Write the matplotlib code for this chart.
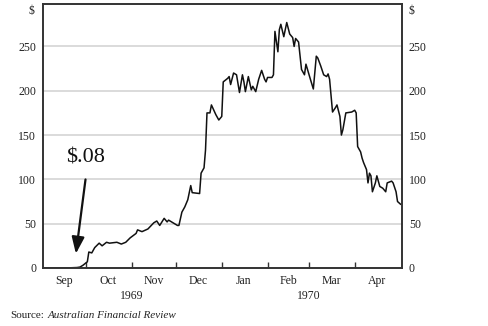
import matplotlib
matplotlib.use('Agg')
import matplotlib.pyplot as plt
import pandas as pd

# share price, dollars
dates = [
    '1969-09-02', '1969-09-10', '1969-09-19', '1969-09-25', '1969-09-27', '1969-09-29',
    '1969-10-02', '1969-10-03', '1969-10-05', '1969-10-07', '1969-10-10', '1969-10-12',
    '1969-10-15', '1969-10-17', '1969-10-22', '1969-10-25', '1969-10-28', '1969-10-31',
    '1969-11-04', '1969-11-05', '1969-11-08', '1969-11-12', '1969-11-16', '1969-11-18',
    '1969-11-20', '1969-11-23', '1969-11-25', '1969-11-26', '1969-11-29', '1969-12-02',
    '1969-12-03', '1969-12-05', '1969-12-07', '1969-12-09', '1969-12-11', '1969-12-12',
    '1969-12-17', '1969-12-18', '1969-12-20', '1969-12-21', '1969-12-22', '1969-12-24',
    '1969-12-25', '1969-12-28', '1969-12-30', '1970-01-01', '1970-01-02', '1970-01-05',
    '1970-01-06', '1970-01-07', '1970-01-09', '1970-01-11', '1970-01-13', '1970-01-15',
    '1970-01-16', '1970-01-17', '1970-01-19', '1970-01-21', '1970-01-22', '1970-01-24',
    '1970-01-26', '1970-01-28', '1970-01-30', '1970-01-31', '1970-02-01', '1970-02-04',
    '1970-02-05', '1970-02-06', '1970-02-08', '1970-02-09', '1970-02-10', '1970-02-12',
    '1970-02-14', '1970-02-16', '1970-02-18', '1970-02-19', '1970-02-20', '1970-02-22',
    '1970-02-24', '1970-02-26', '1970-02-27', '1970-03-02', '1970-03-04', '1970-03-06',
    '1970-03-07', '1970-03-09', '1970-03-11', '1970-03-13', '1970-03-14', '1970-03-15',
    '1970-03-17', '1970-03-19', '1970-03-20', '1970-03-22', '1970-03-23', '1970-03-24',
    '1970-03-26', '1970-03-30', '1970-04-01', '1970-04-02', '1970-04-03', '1970-04-05',
    '1970-04-06', '1970-04-07', '1970-04-09', '1970-04-10', '1970-04-11', '1970-04-12',
    '1970-04-13', '1970-04-15', '1970-04-16', '1970-04-18', '1970-04-20', '1970-04-22',
    '1970-04-23', '1970-04-26', '1970-04-27', '1970-04-29', '1970-04-30', '1970-05-02',
]
prices = [
    0.08, 0.08, 0.1, 0.5, 1, 3,
    7, 18, 17, 23, 28, 25,
    29, 28, 29, 27, 29, 34,
    39, 43, 41, 44, 51, 53,
    48, 56, 52, 54, 51, 48,
    48, 63, 69, 77, 93, 85,
    84, 107, 113, 133, 175, 175,
    184, 173, 167, 171, 210, 214,
    216, 207, 220, 218, 198, 218,
    210, 199, 216, 201, 205, 199,
    213, 223, 213, 210, 215, 215,
    218, 267, 244, 269, 275, 261,
    277, 264, 260, 250, 259, 255,
    224, 218, 230, 213, 202, 239,
    237, 228, 218, 216, 219, 213,
    176, 181, 184, 171, 150, 156,
    175, 176, 178, 175, 137, 131,
    124, 119, 111, 96, 107, 104,
    86, 96, 104, 92, 90, 86,
    96, 98, 96, 86, 75, 72,
]
y_ticks = [0, 50, 100, 150, 200, 250]
month_starts = ['1969-10-01', '1969-11-01', '1969-12-01', '1970-01-01',
                '1970-02-01', '1970-03-01', '1970-04-01']
month_mids = ['1969-09-16', '1969-10-16', '1969-11-16', '1969-12-16',
              '1970-01-16', '1970-02-15', '1970-03-16', '1970-04-16']
month_names = ['Sep', 'Oct', 'Nov', 'Dec', 'Jan', 'Feb', 'Mar', 'Apr']
years = [('1969', '1969-11-01'), ('1970', '1970-03-01')]

plt.rcParams['font.family'] = ['Liberation Serif', 'DejaVu Serif']

fig = plt.figure(figsize=(4.89, 3.26), dpi=100)
ax = fig.add_axes([0.088, 0.178, 0.734, 0.81])

x = pd.to_datetime(dates)
ax.plot(x, prices, color='#111111', lw=1.1)

ax.set_xlim(pd.Timestamp('1969-09-02'), pd.Timestamp('1970-05-03'))
ax.set_ylim(0, 298)

ax.set_yticks(y_ticks)
ax.set_yticklabels([str(v) for v in y_ticks])
ax.tick_params(axis='y', length=0, labelsize=8.5, labelright=True, pad=5,
               labelcolor='#222222')
for v in y_ticks[1:]:
    ax.axhline(v, color='#d4d4d4', lw=1.2, zorder=0)

ax.set_xticks(pd.to_datetime(month_starts))
ax.set_xticklabels([])
ax.set_xticks(pd.to_datetime(month_mids), minor=True)
ax.set_xticklabels(month_names, minor=True)
ax.tick_params(axis='x', which='major', direction='in', length=4, width=1,
               color='#333333')
ax.tick_params(axis='x', which='minor', length=0, labelsize=8.5, pad=5,
               labelcolor='#222222')

for s in ax.spines.values():
    s.set_color('#333333')
    s.set_linewidth(1.4)

ax.text(-0.025, 0.975, r'\$', transform=ax.transAxes, ha='right', va='center',
        fontsize=8.5, color='#222222')
ax.text(1.018, 0.975, r'\$', transform=ax.transAxes, ha='left', va='center',
        fontsize=8.5, color='#222222')

for label, d in years:
    ax.text(pd.Timestamp(d), -0.105, label, transform=ax.get_xaxis_transform(),
            ha='center', va='center', fontsize=8.5, color='#222222')

ax.text(pd.Timestamp('1969-10-01'), 124, r'\$.08', ha='center', va='center',
        fontsize=16, color='#111111')
ax.annotate('', xy=(pd.Timestamp('1969-09-24'), 13),
            xytext=(pd.Timestamp('1969-10-01'), 103),
            arrowprops=dict(arrowstyle='-|>,head_width=0.38,head_length=1.0',
                            color='#111111', lw=1.6))

fig.text(10 / 489, 1 - 316 / 326, 'Source:', ha='left', va='center',
         fontsize=8, color='#222222')
fig.text(48 / 489, 1 - 316 / 326, 'Australian Financial Review', ha='left',
         va='center', fontsize=8, style='italic', color='#222222')

fig.savefig('out.png', dpi=100)
